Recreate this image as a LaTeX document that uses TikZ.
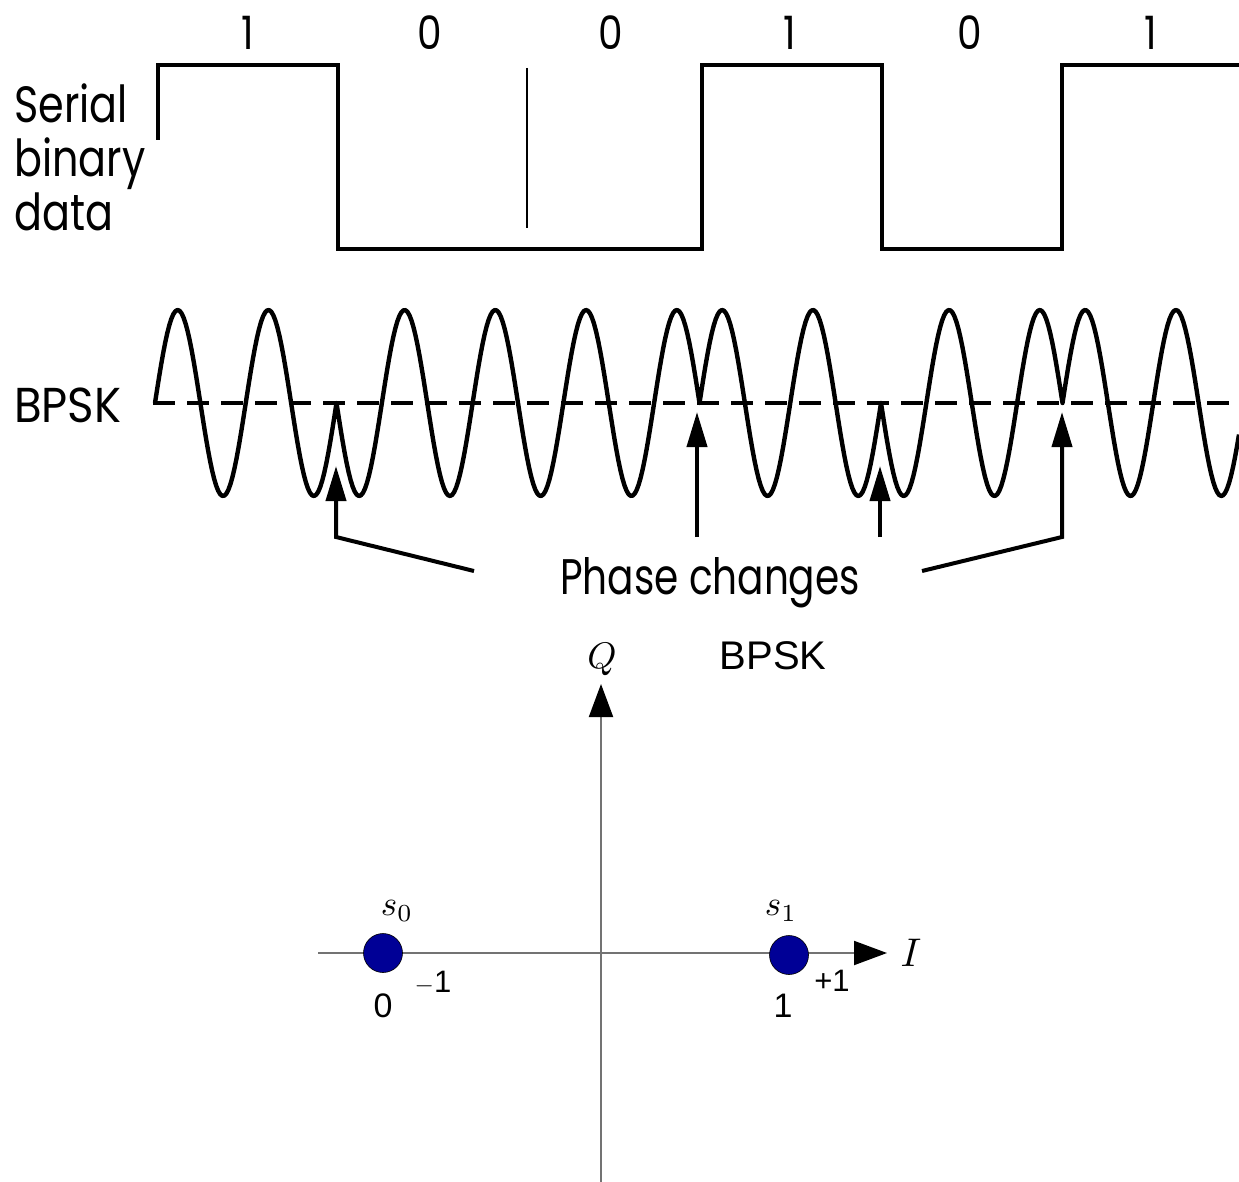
\documentclass[tikz,border=0pt]{standalone}
\usepackage{fontspec}
\newfontfamily\fut[FakeStretch=0.81]{Poppins}
\newfontfamily\futpc[FakeStretch=0.78]{Poppins}
\newfontfamily\futb[FakeStretch=0.92]{Poppins}
\newfontfamily\futd[FakeStretch=0.85]{Poppins}
\newfontfamily\helv{Liberation Sans}
\usetikzlibrary{arrows.meta}
\definecolor{dotblue}{RGB}{0,0,150}
\begin{document}
\begin{tikzpicture}[x=1pt,y=-1pt,
  sq/.style={line width=4pt,line join=miter},
  wave/.style={line width=4.4pt,line join=round},
  baseln/.style={line width=4pt,dash pattern=on 22pt off 12pt},
  pc/.style={line width=4pt,-{Triangle[length=35pt,width=20pt]}},
  axis/.style={draw=black!55,line width=2pt,-{Triangle[length=33pt,width=24pt,color=black]}},
  futtxt/.style={inner sep=0pt,font=\fut\fontsize{51}{56}\selectfont},
  bittxt/.style={inner sep=0pt,font=\futd\fontsize{46}{50}\selectfont},
  numtxt/.style={inner sep=0pt,font=\helv\fontsize{34}{38}\selectfont},
  smalltxt/.style={inner sep=0pt,font=\helv\fontsize{31}{35}\selectfont},
  mathtxt/.style={inner sep=0pt},
  sym/.style={circle,draw=black,line width=0.6pt,fill=dotblue,minimum size=39pt,inner sep=0pt}
]
\useasboundingbox (0,0) rectangle (1239,1182);

% ---------- serial binary data ----------
\node[futtxt,anchor=base west] (ser1) at (14,123) {Serial};
\node[futtxt,anchor=base west] (ser2) at (14,177) {binary};
\node[futtxt,anchor=base west] (ser3) at (14,231) {data};

\foreach \b/\x [count=\i] in {1/248,0/430,0/611,1/790,0/970,1/1151}
  \node[bittxt] (bit\i) at (\x,33) {\b};

\draw[sq] (158,140) -- (158,65) -- (338,65) -- (338,249) -- (702,249) -- (702,65)
  -- (882,65) -- (882,249) -- (1062,249) -- (1062,65) -- (1239,65);
\draw[line width=2pt] (527,68) -- (527,228);

% ---------- BPSK waveform ----------
\node[inner sep=0pt,font=\futb\fontsize{49}{53}\selectfont,anchor=base west] (bpsklab) at (14,422) {BPSK};
\draw[baseln] (153,403) -- (1239,403);
\draw[wave]
  plot[domain=155:336.5,samples=90] (\x,{403-93*sin(3.96694*(\x-155))})
  -- plot[domain=336.5:699.5,samples=180] (\x,{403+93*sin(3.96694*(\x-155))})
  -- plot[domain=699.5:881,samples=90] (\x,{403-93*sin(3.96694*(\x-155))})
  -- plot[domain=881:1062.5,samples=90] (\x,{403+93*sin(3.96694*(\x-155))})
  -- plot[domain=1062.5:1239,samples=90] (\x,{403-93*sin(3.96694*(\x-155))});

% ---------- phase change arrows ----------
\node[inner sep=0pt,font=\futpc\fontsize{50}{54}\selectfont,anchor=base] (pc) at (710,594) {Phase changes};
\coordinate (l1) at (474,571);
\coordinate (c1) at (336,537);
\coordinate (t1) at (336,466);
\coordinate (b2) at (697,537);
\coordinate (t2) at (697,412);
\coordinate (b3) at (880,537);
\coordinate (t3) at (880,466);
\coordinate (r4) at (922,571);
\coordinate (c4) at (1062,537);
\coordinate (t4) at (1062,412);
\draw[pc,line join=miter] (l1) -- (c1) -- (t1);
\draw[pc] (b2) -- (t2);
\draw[pc] (b3) -- (t3);
\draw[pc,line join=miter] (r4) -- (c4) -- (t4);

% ---------- constellation ----------
\coordinate (qb) at (601,1182);
\coordinate (qt) at (601,684);
\coordinate (il) at (318,953);
\coordinate (ir) at (887,953);
\draw[axis] (qb) -- (qt);
\draw[axis] (il) -- (ir);
\node[mathtxt] (qlab) at (602,659) {\scalebox{3.7}{$Q$}};
\node[mathtxt] (ilab) at (911,953) {\scalebox{4}{$I$}};
\node[inner sep=0pt,font=\helv\fontsize{40}{44}\selectfont] (title) at (773,656) {BPSK};

\node[sym] (s0) at (383,953) {};
\node[sym] (s1) at (789,955) {};
\node[mathtxt] (s0lab) at (397,911) {\scalebox{3.5}{$s_0$}};
\node[mathtxt] (s1lab) at (781,911) {\scalebox{3.5}{$s_1$}};
\node[numtxt] (z0) at (383,1006) {0};
\node[smalltxt] (m1) at (433,983) {$-$1};
\node[numtxt] (o1) at (783,1006) {1};
\node[smalltxt] (p1) at (832,981) {+1};
\end{tikzpicture}
\end{document}
